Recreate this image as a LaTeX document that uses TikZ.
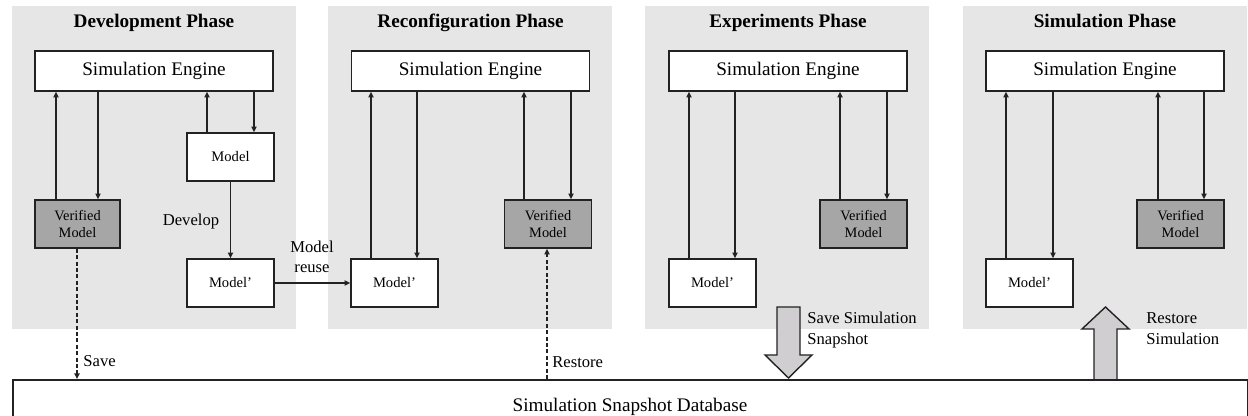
\documentclass[tikz,border=0pt]{standalone}
\usepackage{fontspec}
\setmainfont{Liberation Serif}
\usetikzlibrary{arrows.meta}
\definecolor{panelbg}{HTML}{E6E6E6}
\definecolor{verfill}{HTML}{A6A6A6}
\definecolor{bigarrow}{HTML}{D0CED0}
\definecolor{ink}{HTML}{222222}
\tikzset{
  panel/.style={fill=panelbg, draw=none},
  ptitle/.style={font=\fontsize{9.6}{11}\selectfont\bfseries, inner sep=0pt, anchor=base},
  engine/.style={draw=ink, line width=0.8pt, fill=white, minimum width=119pt, minimum height=20pt, inner sep=0pt, font=\fontsize{9.6}{11}\selectfont},
  mbox/.style={draw=ink, line width=0.8pt, fill=white, minimum width=43.5pt, minimum height=24pt, inner sep=0pt, font=\fontsize{7.3}{8.5}\selectfont},
  vbox/.style={mbox, fill=verfill, align=center, font=\fontsize{7.2}{8.6}\selectfont},
  arr/.style={draw=ink, line width=0.7pt, -{Triangle[length=2.8pt,width=2.6pt]}},
  dasharr/.style={arr, dash pattern=on 2pt off 1.2pt},
  lbl/.style={font=\fontsize{8.3}{10.5}\selectfont, inner sep=0pt, align=left},
  bigarr/.style={draw=ink, line width=0.7pt, fill=bigarrow},
}
\begin{document}
\begin{tikzpicture}[x=0.5pt, y=-0.5pt]
\clip (0,0) rectangle (1248,416);

% phase panels
\fill[panel] (12,6) rectangle (296,329);
\fill[panel] (328,6) rectangle (612,329);
\fill[panel] (645,6) rectangle (929,329);
\fill[panel] (963,6) rectangle (1247,329);

\node[ptitle] (t1) at (154,28) {Development Phase};
\node[ptitle] (t2) at (470.5,28) {Reconfiguration Phase};
\node[ptitle] (t3) at (788,28) {Experiments Phase};
\node[ptitle] (t4) at (1105,28) {Simulation Phase};

% snapshot database
\node[draw=ink, line width=0.8pt, fill=white, minimum width=617.5pt, minimum height=22pt, inner sep=0pt, anchor=north west] (db) at (12,379) {};
\node[font=\fontsize{9.6}{11}\selectfont, inner sep=0pt] (dbl) at (630,407) {Simulation Snapshot Database};

% development phase
\node[engine] (e1) at (154,71) {Simulation Engine};
\node[vbox, minimum width=42.5pt] (v1) at (77.5,224) {Verified\\Model};
\node[mbox] (m1) at (230.5,157) {Model};
\node[mbox] (n1) at (230.5,283) {Model’};
\draw[arr] (v1.north -| 56,0) -- (e1.south -| 56,0);
\draw[arr] (e1.south -| 98,0) -- (v1.north -| 98,0);
\draw[arr] (m1.north -| 207,0) -- (e1.south -| 207,0);
\draw[arr] (e1.south -| 254,0) -- (m1.north -| 254,0);
\draw[arr] (m1) -- (n1);
\node[lbl] (dev) at (191,222) {Develop};
\draw[dasharr] (v1.south -| 77,0) -- (db.north -| 77,0);
\node[lbl, anchor=west] (sv) at (83,361) {Save};

% reconfiguration phase
\node[engine] (e2) at (470.5,71) {Simulation Engine};
\node[mbox] (n2) at (394.5,283) {Model’};
\node[vbox] (v2) at (548,224) {Verified\\Model};
\draw[arr] (n2.north -| 371,0) -- (e2.south -| 371,0);
\draw[arr] (e2.south -| 417,0) -- (n2.north -| 417,0);
\draw[arr] (v2.north -| 524,0) -- (e2.south -| 524,0);
\draw[arr] (e2.south -| 571,0) -- (v2.north -| 571,0);
\draw[arr] (n1) -- (n2);
\node[lbl, align=center, font=\fontsize{8.3}{10}\selectfont] (reuse) at (312,257) {Model\\reuse};
\draw[dasharr] (db.north -| 547,0) -- (v2.south -| 547,0);
\node[lbl, anchor=west] (rs) at (552,362) {Restore};

% experiments phase
\node[engine] (e3) at (788,71) {Simulation Engine};
\node[mbox] (n3) at (712.5,283) {Model’};
\node[vbox] (v3) at (863.5,224) {Verified\\Model};
\draw[arr] (n3.north -| 689,0) -- (e3.south -| 689,0);
\draw[arr] (e3.south -| 735,0) -- (n3.north -| 735,0);
\draw[arr] (v3.north -| 840,0) -- (e3.south -| 840,0);
\draw[arr] (e3.south -| 887,0) -- (v3.north -| 887,0);
\draw[bigarr] (777,307) -- (800,307) -- (800,355) -- (812,355) -- (788.5,378) -- (765,355) -- (777,355) -- cycle;
\node[lbl, anchor=north west] (ss) at (807,312) {Save Simulation\\Snapshot};

% simulation phase
\node[engine] (e4) at (1105,71) {Simulation Engine};
\node[mbox] (n4) at (1029.5,283) {Model’};
\node[vbox] (v4) at (1180.5,224) {Verified\\Model};
\draw[arr] (n4.north -| 1006,0) -- (e4.south -| 1006,0);
\draw[arr] (e4.south -| 1053,0) -- (n4.north -| 1053,0);
\draw[arr] (v4.north -| 1158,0) -- (e4.south -| 1158,0);
\draw[arr] (e4.south -| 1204,0) -- (v4.north -| 1204,0);
\draw[bigarr] (1094,379) -- (1094,329) -- (1082,329) -- (1105.5,307) -- (1129,329) -- (1117,329) -- (1117,379);
\node[lbl, anchor=north west] (rsim) at (1146,312) {Restore\\Simulation};
\end{tikzpicture}
\end{document}
